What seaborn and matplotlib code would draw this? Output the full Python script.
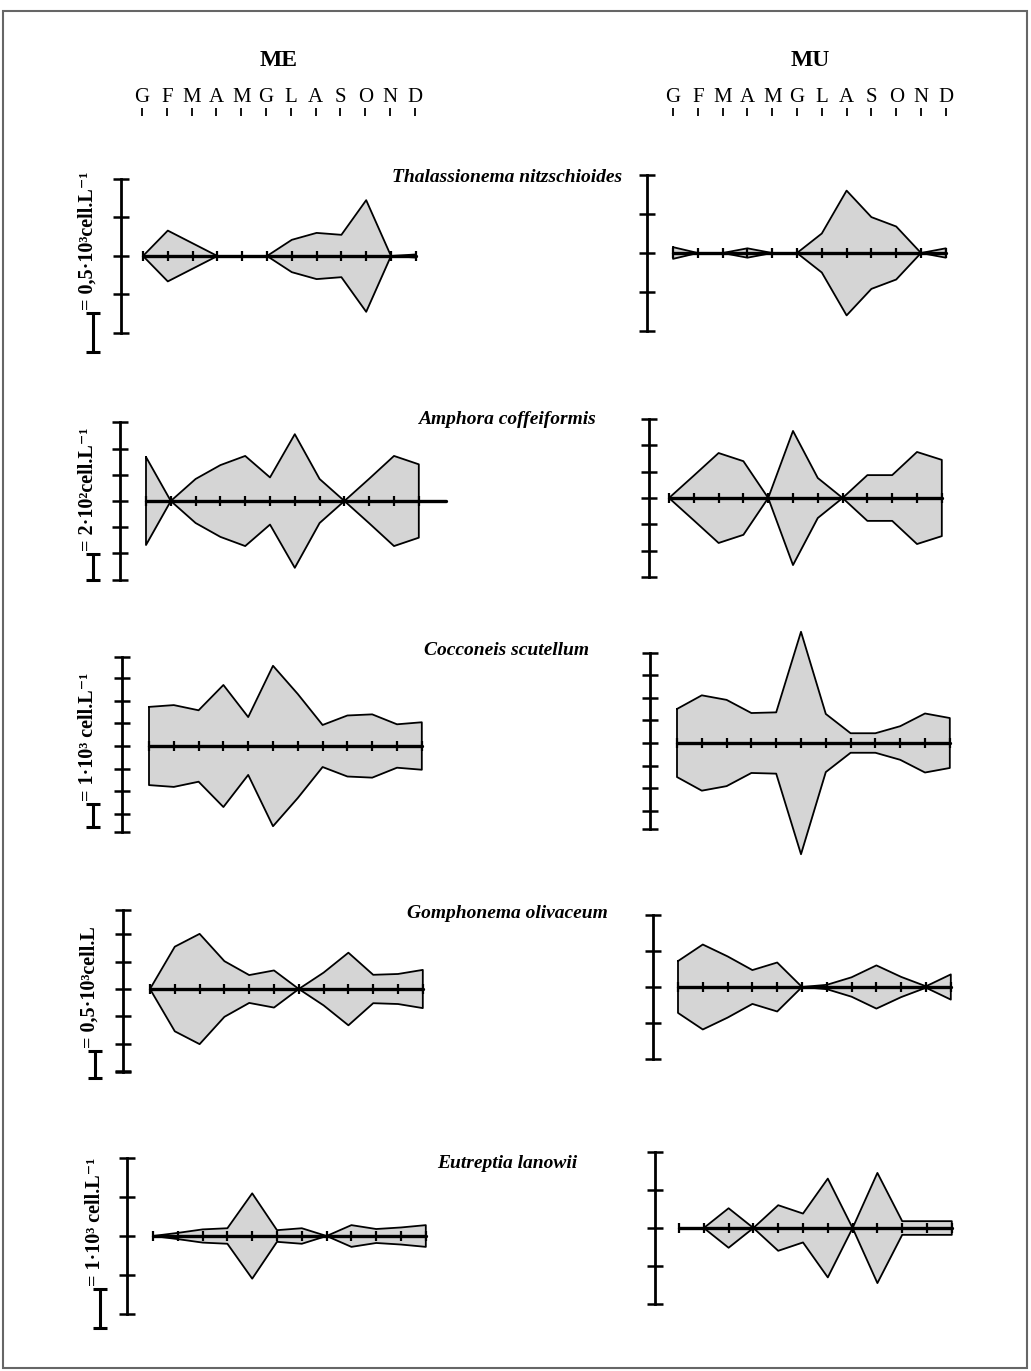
import numpy as np
import seaborn as sns
import matplotlib.pyplot as plt
from matplotlib.patches import Rectangle

sns.set_style("white")
SERIF = ["Liberation Serif", "DejaVu Serif"]
plt.rcParams["font.family"] = SERIF
plt.rcParams["text.color"] = "black"
plt.rcParams["axes.labelcolor"] = "black"
plt.rcParams["xtick.color"] = "black"
plt.rcParams["ytick.color"] = "black"

# ---------------- data ----------------
months = ["G", "F", "M", "A", "M", "G", "L", "A", "S", "O", "N", "D"]
stations = ["ME", "MU"]
species = ["Thalassionema nitzschioides", "Amphora coffeiformis",
           "Cocconeis scutellum", "Gomphonema olivaceum", "Eutreptia lanowii"]
scale_labels = ["= 0,5·10³cell.L⁻¹", "= 2·10²cell.L⁻¹", "= 1·10³ cell.L⁻¹",
                "= 0,5·10³cell.L", "= 1·10³ cell.L⁻¹"]

# half-width of each kite, in scale-bar units (one unit = one axis tick)
me_thalassionema = [0, 0.66, 0.33, 0, 0, 0, 0.42, 0.6, 0.55, 1.45, 0, 0.04]
mu_thalassionema = [0.15, 0, 0, 0.12, 0, 0, 0.5, 1.6, 0.92, 0.68, 0, 0.12]
me_amphora = [1.68, 0, 0.84, 1.37, 1.72, 0.9, 2.55, 0.84, 0, 0.85, 1.72, 1.4]
mu_amphora = [0, 0.85, 1.71, 1.4, 0, 2.55, 0.76, 0, 0.87, 0.87, 1.75, 1.45]
me_cocconeis = [1.73, 1.81, 1.58, 2.7, 1.28, 3.55, 2.3, 0.93, 1.35, 1.4, 0.96, 1.05]
mu_cocconeis = [1.5, 2.1, 1.9, 1.32, 1.35, 4.9, 1.28, 0.43, 0.43, 0.74, 1.3, 1.1]
me_gomphonema = [0, 1.55, 2.02, 1.02, 0.51, 0.68, 0, 0.6, 1.33, 0.52, 0.55, 0.7]
mu_gomphonema = [0.72, 1.18, 0.85, 0.47, 0.68, 0, 0.06, 0.27, 0.6, 0.28, 0.02, 0.35]
me_eutreptia = [0, 0.08, 0.17, 0.2, 1.1, 0.15, 0.2, 0, 0.28, 0.18, 0.22, 0.28]
mu_eutreptia = [0, 0, 0.52, 0, 0.6, 0.38, 1.3, 0, 1.45, 0.18, 0.18, 0.18]

me_values = [me_thalassionema, me_amphora, me_cocconeis, me_gomphonema, me_eutreptia]
mu_values = [mu_thalassionema, mu_amphora, mu_cocconeis, mu_gomphonema, mu_eutreptia]

# ---------------- layout (pixels) ----------------
W, H = 1031, 1371
S = 24.8          # px per month
AX_H = 240
FILL = "#d5d5d5"

layout = {
    "ME": dict(gx=[143, 146, 149, 150, 153], axis_x=[121, 120, 122, 123, 127],
               cy=[256, 501, 746, 989, 1236], unit=[38.5, 26.2, 22.6, 27.3, 38.8],
               yr=[(-2, 2), (-3, 3), (-3.8, 3.95), (-3.05, 2.9), (-2, 2)],
               base=[(0, 11), (0, 12.1), (0, 11), (0, 11), (0, 11)],
               head_gx=142, head_cx=279),
    "MU": dict(gx=[673, 669, 677, 678, 679], axis_x=[647, 649, 650, 653, 655],
               cy=[253, 498, 743, 987, 1228], unit=[39, 26.3, 22.7, 36, 38],
               yr=[(-2, 2), (-3, 3), (-3.8, 3.95), (-2, 2), (-2, 2)],
               base=[(0, 11)] * 5,
               head_gx=673, head_cx=810),
}
bar_x = [93, 93, 93, 95, 100]
bar_bottom = [352, 580, 827, 1078, 1328]
species_y = [178, 419, 651, 914, 1163]

fig = plt.figure(figsize=(W / 100, H / 100), dpi=100)


def fx(px):
    return px / W


def fy(py):
    return 1 - py / H


def kite_panel(gx, cy, unit, axis_x, yr, vals, base):
    ax = fig.add_axes([fx(gx - 3 * S), fy(cy + AX_H / 2), 16 * S / W, AX_H / H])
    ax.set_xlim(-3, 13)
    half = AX_H / 2 / unit
    ax.set_ylim(-half, half)
    ax.patch.set_alpha(0)
    x = np.arange(len(months))
    v = np.asarray(vals, dtype=float)
    ax.fill_between(x, -v, v, color=FILL, lw=0, zorder=1)
    xs = np.concatenate([x, x[::-1], x[:1]])
    ys = np.concatenate([v, -v[::-1], v[:1]])
    sns.lineplot(x=xs, y=ys, sort=False, estimator=None, color="black",
                 lw=1.3, ax=ax, zorder=2)
    sns.lineplot(x=list(base), y=[0, 0], color="black", lw=2.4, ax=ax, zorder=3)
    sns.scatterplot(x=x, y=np.zeros(len(x)), marker="|", s=45, linewidth=1.6,
                    color="black", ax=ax, zorder=4)
    for sp in ["top", "right", "bottom"]:
        ax.spines[sp].set_visible(False)
    ax.spines["left"].set_position(("data", (axis_x - gx) / S))
    ax.spines["left"].set_bounds(*yr)
    ax.spines["left"].set_linewidth(2)
    ax.spines["left"].set_color("black")
    lo, hi = yr
    ticks = sorted(set(list(range(int(np.ceil(lo)), int(np.floor(hi)) + 1)) + [lo, hi]))
    ax.set_yticks(ticks)
    ax.set_xticks([])
    ax.tick_params(axis="y", direction="inout", length=12, width=1.8,
                   labelleft=False, left=True, color="black")
    return ax


for st, vals_list in zip(stations, [me_values, mu_values]):
    L = layout[st]
    # header with month letters
    hax = fig.add_axes([fx(L["head_gx"] - 3 * S), fy(117), 16 * S / W, 0.0005])
    hax.set_xlim(-3, 13)
    hax.patch.set_alpha(0)
    for sp in hax.spines.values():
        sp.set_visible(False)
    hax.xaxis.tick_top()
    hax.set_xticks(range(len(months)))
    hax.set_xticklabels(months, fontsize=15, family=SERIF, color="black")
    hax.set_yticks([])
    hax.tick_params(axis="x", direction="out", length=6, width=1.3, pad=1,
                    top=True, bottom=False, labeltop=True, labelbottom=False,
                    color="black")
    fig.text(fx(L["head_cx"]), fy(61), st, ha="center", va="center",
             fontsize=17, fontweight="bold", family=SERIF, color="black")

    for i, vals in enumerate(vals_list):
        ax = kite_panel(L["gx"][i], L["cy"][i], L["unit"][i], L["axis_x"][i],
                        L["yr"][i], vals, L["base"][i])
        if st == "ME":
            xb = (bar_x[i] - L["gx"][i]) / S
            y0 = (L["cy"][i] - bar_bottom[i]) / L["unit"][i]
            ax.plot([xb, xb], [y0, y0 + 1], color="black", lw=2.2, marker="_",
                    ms=10, mew=2.2, clip_on=False, zorder=5)
            ax.text(xb - 5 / S, y0 + 1 + 3 / L["unit"][i], scale_labels[i],
                    rotation=90, ha="center", va="bottom", fontsize=14.5,
                    fontweight="bold", family=SERIF, color="black", clip_on=False)

for name, y in zip(species, species_y):
    fig.text(fx(507), fy(y), name, ha="center", va="center", fontsize=14,
             fontweight="bold", fontstyle="italic", family=SERIF, color="black")

fig.patches.append(Rectangle((fx(3), fy(1368)), fx(1027) - fx(3), fy(11) - fy(1368),
                             transform=fig.transFigure, fill=False,
                             edgecolor="#666666", lw=1.5))

fig.savefig("out.png", dpi=100)
